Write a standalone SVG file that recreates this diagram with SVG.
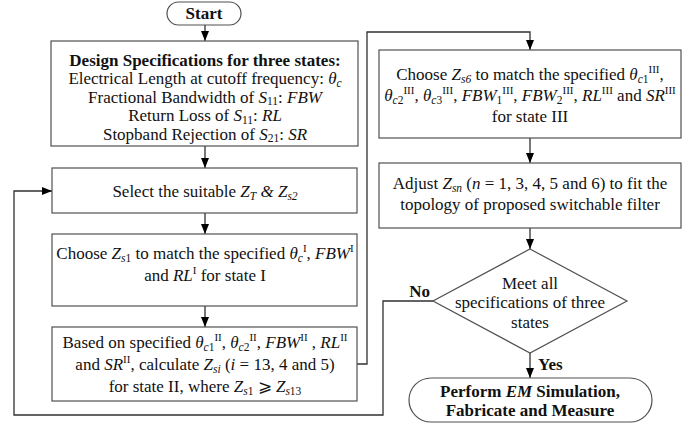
<svg xmlns="http://www.w3.org/2000/svg" width="687" height="424" viewBox="0 0 687 424" font-family="'Liberation Serif', 'Times New Roman', Times, 'DejaVu Serif', serif">
  <style>
    .box { fill: #ffffff; stroke: #505050; stroke-width: 1.2; }
    .wire { fill: none; stroke: #303030; stroke-width: 1.3; }
    text { font-family: 'Liberation Serif', 'Times New Roman', Times, 'DejaVu Serif', serif; font-size: 17px; fill: #111; }
    .c { text-anchor: middle; }
    .b { font-weight: bold; }
    .i { font-style: italic; }
    .sub { font-size: 11.5px; }
    .sup { font-size: 11px; }
  </style>
  <defs>
    <marker id="arrow" markerUnits="userSpaceOnUse" markerWidth="10" markerHeight="10" viewBox="0 0 10 10" refX="10" refY="5" orient="auto">
      <path d="M0,1 L10,5 L0,9 Z" fill="#000"/>
    </marker>
  </defs>
  <rect width="687" height="424" fill="#ffffff"/>

  <!-- connectors -->
  <g id="connectors">
    <path class="wire" d="M205,25 V41" marker-end="url(#arrow)"/>
    <path class="wire" d="M205,146 V168" marker-end="url(#arrow)"/>
    <path class="wire" d="M205,213 V234" marker-end="url(#arrow)"/>
    <path class="wire" d="M205,306 V327" marker-end="url(#arrow)"/>
    <path class="wire" d="M357,364 H367 V32 H530 V50" marker-end="url(#arrow)"/>
    <path class="wire" d="M530,138 V163" marker-end="url(#arrow)"/>
    <path class="wire" d="M530,228 V249" marker-end="url(#arrow)"/>
    <path class="wire" d="M530,353 V378" marker-end="url(#arrow)"/>
    <path class="wire" d="M433,301 H383 V415 H14 V191 H52" marker-end="url(#arrow)"/>
    <text class="b" x="430" y="297" text-anchor="end">No</text>
    <text class="b" x="538" y="370">Yes</text>
  </g>

  <!-- start terminal -->
  <g id="start">
    <rect class="box" x="167" y="2" width="74" height="23" rx="11.5"/>
    <text class="c b" x="204" y="19">Start</text>
  </g>

  <!-- design specifications -->
  <g id="specs">
    <rect class="box" x="51" y="41" width="307" height="105"/>
    <text class="c b" x="205" y="65.5">Design Specifications for three states:</text>
    <text class="c" x="205" y="84">Electrical Length at cutoff frequency: <tspan class="i">θ</tspan><tspan class="i sub" dy="2.5">c</tspan></text>
    <text class="c" x="205" y="102.5">Fractional Bandwidth of <tspan class="i">S</tspan><tspan class="sub" dy="2.5">11</tspan><tspan dy="-2.5">: </tspan><tspan class="i">FBW</tspan></text>
    <text class="c" x="205" y="121">Return Loss of <tspan class="i">S</tspan><tspan class="sub" dy="2.5">11</tspan><tspan dy="-2.5">: </tspan><tspan class="i">RL</tspan></text>
    <text class="c" x="205" y="139.5">Stopband Rejection of <tspan class="i">S</tspan><tspan class="sub" dy="2.5">21</tspan><tspan dy="-2.5">: </tspan><tspan class="i">SR</tspan></text>
  </g>

  <!-- select impedances -->
  <g id="select">
    <rect class="box" x="52" y="168" width="305" height="45"/>
    <text class="c" x="205" y="197">Select the suitable <tspan class="i">Z</tspan><tspan class="i sub" dy="3">T</tspan><tspan dy="-3" class="i"> &amp; Z</tspan><tspan class="i sub" dy="3">s2</tspan></text>
  </g>

  <!-- state I -->
  <g id="state1">
    <rect class="box" x="52" y="234" width="305" height="72"/>
    <text class="c" x="205" y="259">Choose <tspan class="i">Z</tspan><tspan class="i sub" dy="3">s</tspan><tspan class="sub" dy="0">1</tspan><tspan dy="-3"> to match the specified </tspan><tspan class="i">θ</tspan><tspan class="i sub" dy="3">c</tspan><tspan class="sup" dy="-10">I</tspan><tspan dy="7">, </tspan><tspan class="i">FBW</tspan><tspan class="sup" dy="-7">I</tspan></text>
    <text class="c" x="205" y="281">and <tspan class="i">RL</tspan><tspan class="sup" dy="-7">I</tspan><tspan dy="7"> for state I</tspan></text>
  </g>

  <!-- state II -->
  <g id="state2">
    <rect class="box" x="52" y="327" width="305" height="74"/>
    <text class="c" x="205" y="348">Based on specified <tspan class="i">θ</tspan><tspan class="i sub" dy="3">c</tspan><tspan class="sub">1</tspan><tspan class="sup" dy="-10">II</tspan><tspan dy="7">, </tspan><tspan class="i">θ</tspan><tspan class="i sub" dy="3">c</tspan><tspan class="sub">2</tspan><tspan class="sup" dy="-10">II</tspan><tspan dy="7">, </tspan><tspan class="i">FBW</tspan><tspan class="sup" dy="-7">II</tspan><tspan dy="7"> , </tspan><tspan class="i">RL</tspan><tspan class="sup" dy="-7">II</tspan></text>
    <text class="c" x="205" y="370">and <tspan class="i">SR</tspan><tspan class="sup" dy="-7">II</tspan><tspan dy="7">, calculate </tspan><tspan class="i">Z</tspan><tspan class="i sub" dy="3">si</tspan><tspan dy="-3"> (</tspan><tspan class="i">i</tspan> = 13, 4 and 5)</text>
    <text class="c" x="205" y="392">for state II, where <tspan class="i">Z</tspan><tspan class="i sub" dy="3">s</tspan><tspan class="sub">1</tspan><tspan dy="-3"> ⩾ </tspan><tspan class="i">Z</tspan><tspan class="i sub" dy="3">s</tspan><tspan class="sub">13</tspan></text>
  </g>

  <!-- state III -->
  <g id="state3">
    <rect class="box" x="379" y="50" width="302" height="88"/>
    <text class="c" x="530" y="80">Choose <tspan class="i">Z</tspan><tspan class="i sub" dy="3">s6</tspan><tspan dy="-3">  to match the specified </tspan><tspan class="i">θ</tspan><tspan class="i sub" dy="3">c</tspan><tspan class="sub">1</tspan><tspan class="sup" dy="-10">III</tspan><tspan dy="7">,</tspan></text>
    <text class="c" x="530" y="101"><tspan class="i">θ</tspan><tspan class="i sub" dy="3">c</tspan><tspan class="sub">2</tspan><tspan class="sup" dy="-10">III</tspan><tspan dy="7">, </tspan><tspan class="i">θ</tspan><tspan class="i sub" dy="3">c</tspan><tspan class="sub">3</tspan><tspan class="sup" dy="-10">III</tspan><tspan dy="7">, </tspan><tspan class="i">FBW</tspan><tspan class="sub" dy="3">1</tspan><tspan class="sup" dy="-10">III</tspan><tspan dy="7">, </tspan><tspan class="i">FBW</tspan><tspan class="sub" dy="3">2</tspan><tspan class="sup" dy="-10">III</tspan><tspan dy="7">, </tspan><tspan class="i">RL</tspan><tspan class="sup" dy="-7">III</tspan><tspan dy="7"> and </tspan><tspan class="i">SR</tspan><tspan class="sup" dy="-7">III</tspan></text>
    <text class="c" x="530" y="122">for state III</text>
  </g>

  <!-- adjust impedances -->
  <g id="adjust">
    <rect class="box" x="379" y="163" width="302" height="65"/>
    <text class="c" x="530" y="189">Adjust <tspan class="i">Z</tspan><tspan class="i sub" dy="3">sn</tspan><tspan dy="-3"> (</tspan><tspan class="i">n</tspan> = 1, 3, 4, 5 and 6) to fit the</text>
    <text class="c" x="530" y="210">topology of proposed switchable filter</text>
  </g>

  <!-- decision -->
  <g id="decision">
    <polygon class="box" points="530,249 627,301 530,353 433,301"/>
    <text class="c" x="530" y="289">Meet all</text>
    <text class="c" x="530" y="308">specifications of three</text>
    <text class="c" x="530" y="328">states</text>
  </g>

  <!-- end terminal -->
  <g id="finish">
    <rect class="box" x="409" y="378" width="243" height="44" rx="22"/>
    <text class="c b" x="530" y="397">Perform <tspan class="i">EM</tspan> Simulation,</text>
    <text class="c b" x="530" y="416">Fabricate and Measure</text>
  </g>
</svg>
